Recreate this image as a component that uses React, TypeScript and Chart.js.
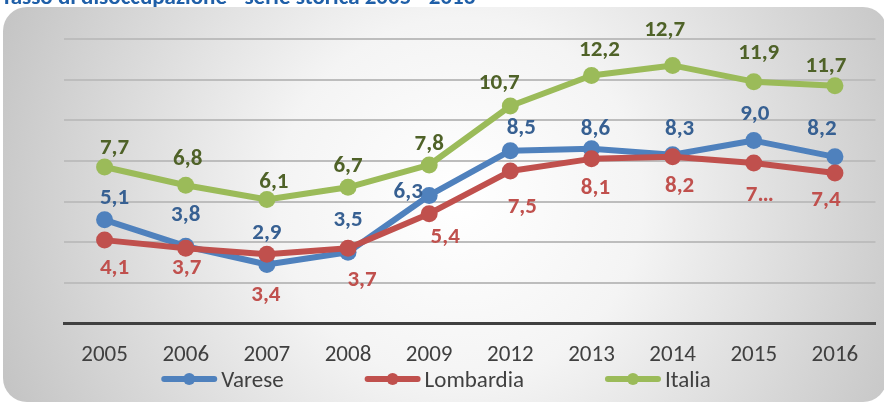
import React, { useEffect, useRef } from 'react';
import { Chart, registerables } from 'chart.js';

Chart.register(...registerables);

// ---- data ----
const categories = ['2005', '2006', '2007', '2008', '2009', '2012', '2013', '2014', '2015', '2016'];
const varese = [5.1, 3.8, 2.9, 3.5, 6.3, 8.5, 8.6, 8.3, 9.0, 8.2];
const lombardia = [4.1, 3.7, 3.4, 3.7, 5.4, 7.5, 8.1, 8.2, 7.9, 7.4];
const italia = [7.7, 6.8, 6.1, 6.7, 7.8, 10.7, 12.2, 12.7, 11.9, 11.7];
const seriesNames = ['Varese', 'Lombardia', 'Italia'];
const yMin = 0;
const yMax = 14;
const yStep = 2;
const titleText = 'Tasso di disoccupazione - serie storica 2005 - 2016';
// label shown truncated in the original (Lombardia 2015)
const truncatedLabels: Record<string, string> = { '1-8': '7…' };

// ---- label placement (relative offsets from each point) ----
const varLabelDx = [10, 0, 0, 0, -21, 11, 4, 7, 1, -13];
const varLabelDy = [-23, -33, -33, -34, -5, -24, -21, -27, -28, -29];
const lomLabelDx = [10, 1, -1, 14, 16, 12, 4, 7, 6, -9];
const lomLabelDy = [26, 18, 39, 30, 22, 34, 28, 28, 31, 25];
const itaLabelDx = [10, 2, 7, 0, 0, -11, 8, -8, 5, -9];
const itaLabelDy = [-20, -28, -19, -23, -22, -25, -27, -37, -30, -21];

const FONT = "Carlito, 'Liberation Sans Narrow', 'DejaVu Sans Condensed', 'Open Sans', sans-serif";
const lineColors = ['#4F81BD', '#C0504D', '#9BBB59'];
const labelColors = ['#376092', '#C0504D', '#4F6228'];
const textColor = '#404040';

const bgPlugin = {
  id: 'bgPlugin',
  beforeDraw(chart: any) {
    const ctx = chart.ctx as CanvasRenderingContext2D;
    ctx.save();
    ctx.fillStyle = '#1F5FA8';
    ctx.font = `bold 23px ${FONT}`;
    ctx.textAlign = 'left';
    ctx.textBaseline = 'alphabetic';
    ctx.fillText(titleText, 1, 4);
    const g = ctx.createRadialGradient(460, 200, 0, 460, 200, 520);
    g.addColorStop(0, '#FFFFFF');
    g.addColorStop(0.35, '#F4F4F4');
    g.addColorStop(1, '#C0C0C0');
    ctx.beginPath();
    (ctx as any).roundRect(3, 7, 884, 395, 24);
    ctx.fillStyle = g;
    ctx.fill();
    ctx.restore();
  },
};

const labelPlugin = {
  id: 'labelPlugin',
  afterDatasetsDraw(chart: any) {
    const ctx = chart.ctx as CanvasRenderingContext2D;
    const dxs = [varLabelDx, lomLabelDx, itaLabelDx];
    const dys = [varLabelDy, lomLabelDy, itaLabelDy];
    ctx.save();
    ctx.font = `bold 23px ${FONT}`;
    ctx.textAlign = 'center';
    ctx.textBaseline = 'alphabetic';
    chart.data.datasets.forEach((ds: any, di: number) => {
      const meta = chart.getDatasetMeta(di);
      meta.data.forEach((el: any, i: number) => {
        const v = ds.data[i] as number;
        const txt = truncatedLabels[`${di}-${i}`] ?? v.toFixed(1).replace('.', ',');
        ctx.fillStyle = labelColors[di];
        ctx.fillText(txt, el.x + dxs[di][i], el.y + dys[di][i] + 7.5);
      });
    });
    ctx.restore();
  },
};

const legendPlugin = {
  id: 'legendPlugin',
  afterDraw(chart: any) {
    const ctx = chart.ctx as CanvasRenderingContext2D;
    ctx.save();
    ctx.font = `23px ${FONT}`;
    const lineW = 56;
    const gapText = 4;
    const gapItem = 81;
    const widths = seriesNames.map((n) => lineW + gapText + ctx.measureText(n).width);
    const total = widths.reduce((a, b) => a + b, 0) + gapItem * (seriesNames.length - 1);
    let x = 436 - total / 2;
    const y = 379;
    seriesNames.forEach((n, i) => {
      ctx.strokeStyle = lineColors[i];
      ctx.lineWidth = 6;
      ctx.lineCap = 'round';
      ctx.beginPath();
      ctx.moveTo(x + 3, y);
      ctx.lineTo(x + lineW - 3, y);
      ctx.stroke();
      ctx.fillStyle = lineColors[i];
      ctx.beginPath();
      ctx.arc(x + lineW / 2, y, 6, 0, Math.PI * 2);
      ctx.fill();
      ctx.fillStyle = textColor;
      ctx.textAlign = 'left';
      ctx.textBaseline = 'alphabetic';
      ctx.fillText(n, x + lineW + gapText, y + 7.5);
      x += widths[i] + gapItem;
    });
    ctx.restore();
  },
};

export default function App() {
  const ref = useRef<HTMLCanvasElement | null>(null);
  useEffect(() => {
    if (!ref.current) return;
    const series = [varese, lombardia, italia];
    const chart = new Chart(ref.current, {
      type: 'line',
      data: {
        labels: categories,
        datasets: series.map((d, i) => ({
          label: seriesNames[i],
          data: d,
          borderColor: lineColors[i],
          backgroundColor: lineColors[i],
          pointBackgroundColor: lineColors[i],
          pointBorderWidth: 0,
          pointRadius: 8.5,
          borderWidth: 6,
          borderJoinStyle: 'round',
          borderCapStyle: 'round',
          tension: 0,
          order: 3 - i,
        })),
      },
      options: {
        responsive: false,
        animation: false,
        devicePixelRatio: 1,
        layout: { padding: { left: 64, right: 0, top: 39, bottom: 18 } },
        plugins: {
          legend: { display: false },
          title: { display: false },
          tooltip: { enabled: false },
        },
        scales: {
          x: {
            offset: true,
            grid: { display: false, drawTicks: false },
            border: { display: true, color: '#404040', width: 3 },
            ticks: {
              color: textColor,
              font: { family: FONT, size: 23 },
              padding: 18,
              maxRotation: 0,
              autoSkip: false,
            },
          },
          y: {
            min: yMin,
            max: yMax,
            ticks: { display: false, stepSize: yStep },
            grid: { color: '#BDBDBD', lineWidth: 2, drawTicks: false },
            border: { display: false },
          },
        },
      },
      plugins: [bgPlugin, labelPlugin, legendPlugin],
    } as any);
    return () => chart.destroy();
  }, []);
  return (
    <div style={{ position: 'fixed', left: 0, top: 0, width: 884, height: 405 }}>
      <canvas ref={ref} width={884} height={405} />
    </div>
  );
}
